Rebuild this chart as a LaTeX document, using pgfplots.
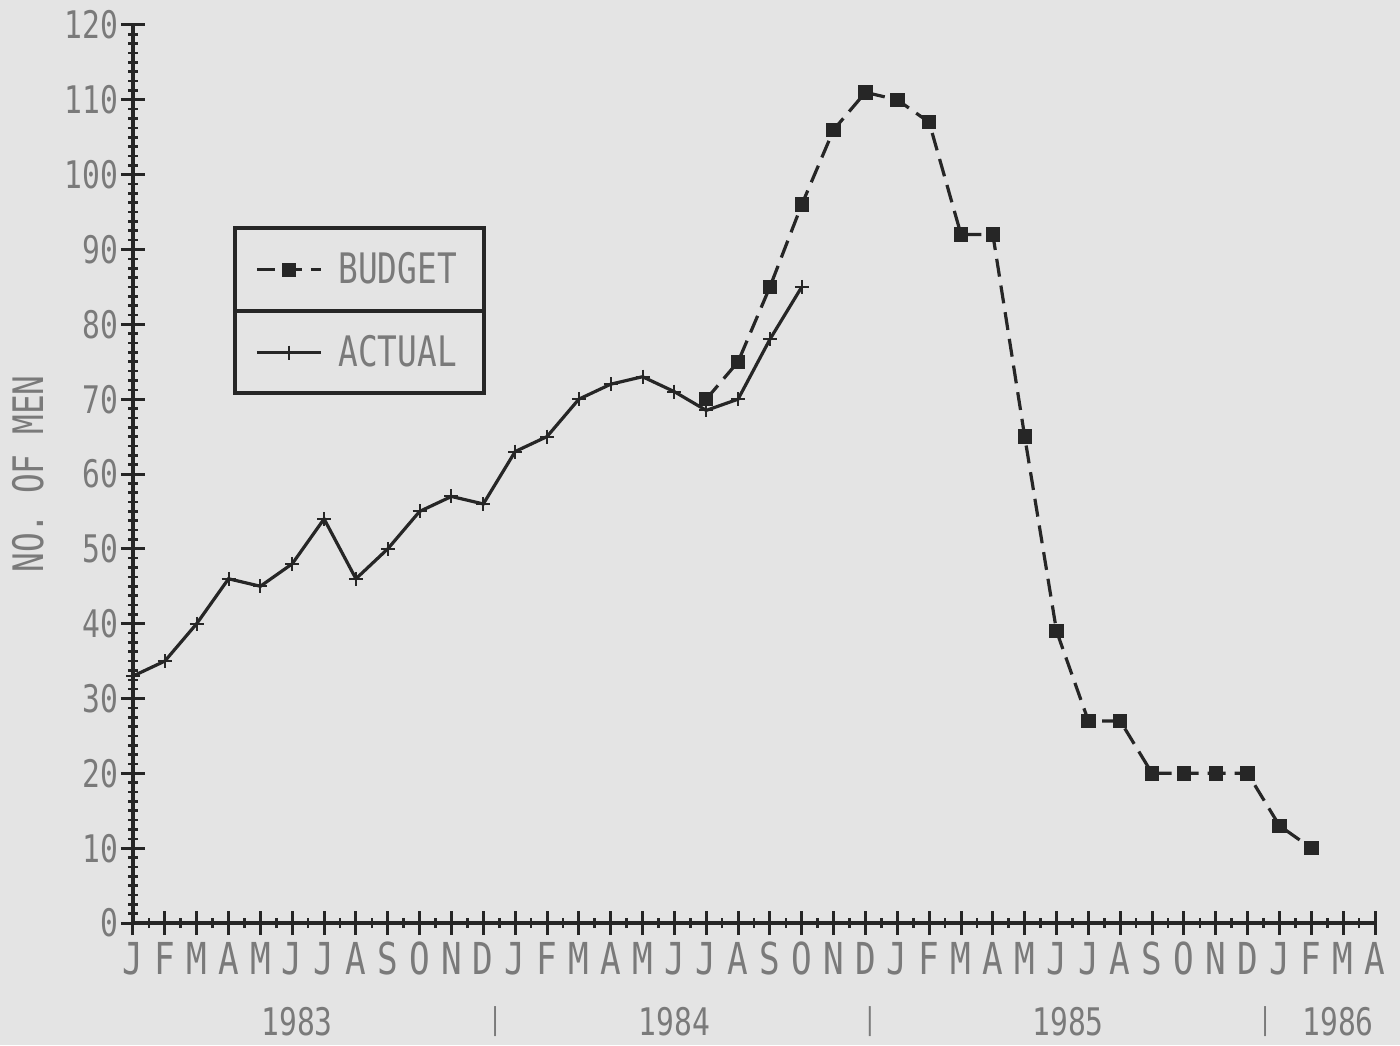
\documentclass[border=0pt]{standalone}
\usepackage{pgfplots}
\pgfplotsset{compat=1.18}
\usepackage{fontspec}
\newfontfamily\plotfont[FakeStretch=0.78]{DejaVu Sans Mono}
\definecolor{bg}{HTML}{E4E4E4}
\definecolor{ink}{HTML}{262626}
\definecolor{txt}{HTML}{7A7A7A}
\begin{document}
\begin{tikzpicture}
\fill[bg] (-66.5pt,-61pt) rectangle (633.5pt,461.5pt);
\useasboundingbox (-66.5pt,-61pt) rectangle (633.5pt,461.5pt);
\begin{axis}[
  at={(0pt,0pt)}, anchor=south west,
  scale only axis, width=621pt, height=449pt,
  xmin=0, xmax=39, ymin=0, ymax=120,
  axis lines*=left,
  axis line style={ink, line width=2pt},
  clip=false,
  tick align=center,
  major tick length=12pt,
  minor tick length=5pt,
  tick style={ink, line width=1.5pt},
  minor tick style={ink, line width=1.3pt},
  ytick={0,10,...,120},
  minor y tick num=7,
  xtick={0,...,39},
  minor x tick num=1,
  xticklabels={J,F,M,A,M,J,J,A,S,O,N,D,J,F,M,A,M,J,J,A,S,O,N,D,J,F,M,A,M,J,J,A,S,O,N,D,J,F,M,A},
  /pgf/number format/assume math mode=true,
  yticklabel style={font=\plotfont\fontsize{19pt}{19pt}\selectfont, text=txt, xshift=2pt},
  xticklabel style={font=\plotfont\fontsize{22pt}{22pt}\selectfont, text=txt},
  ylabel={NO. OF MEN},
  every axis y label/.style={at={(axis cs:-3.3,60)}, rotate=90, anchor=center, font=\plotfont\fontsize{21pt}{21pt}\selectfont, text=txt},
  legend image code/.code={\draw[mark repeat=2,mark phase=2,#1] plot coordinates {(0pt,0pt) (16pt,0pt) (32pt,0pt)};},
  legend style={at={(axis cs:3.2,92.9)}, anchor=north west, draw=none, fill=none,
    inner xsep=10pt, inner ysep=0pt, row sep=0pt,
    font=\plotfont\fontsize{21pt}{21pt}\selectfont, text=txt,
    nodes={inner ysep=0pt, inner xsep=8pt, minimum height=41.5pt}},
  legend cell align=left,
]
\addplot[ink, line width=1.6pt, dash pattern=on 9pt off 4.5pt, mark=square*, mark size=2.8pt, mark options={solid}] coordinates {
(18,70) (19,75) (20,85) (21,96) (22,106) (23,111) (24,110) (25,107) (26,92) (27,92)
(28,65) (29,39) (30,27) (31,27) (32,20) (33,20) (34,20) (35,20) (36,13) (37,10)};
\addlegendentry{BUDGET}
\addplot[ink, line width=1.6pt, mark=+, mark size=3.5pt, mark options={line width=1pt}] coordinates {
(0,33) (1,35) (2,40) (3,46) (4,45) (5,48) (6,54) (7,46) (8,50) (9,55) (10,57) (11,56)
(12,63) (13,65) (14,70) (15,72) (16,73) (17,71) (18,68.5) (19,70) (20,78) (21,85)};
\addlegendentry{ACTUAL}
\draw[ink, line width=2pt] (axis cs:3.2,92.9) rectangle (axis cs:11.02,70.8);
\draw[ink, line width=2pt] (axis cs:3.2,81.8) -- (axis cs:11.02,81.8);
\begin{scope}[every node/.style={font=\plotfont\fontsize{19pt}{19pt}\selectfont, text=txt}]
\node at (axis cs:5.15,-13.2) {1983};
\node[font=\plotfont\fontsize{15pt}{15pt}\selectfont] at (axis cs:11.37,-13.2) {|};
\node at (axis cs:17.0,-13.2) {1984};
\node[font=\plotfont\fontsize{15pt}{15pt}\selectfont] at (axis cs:23.14,-13.2) {|};
\node at (axis cs:29.36,-13.2) {1985};
\node[font=\plotfont\fontsize{15pt}{15pt}\selectfont] at (axis cs:35.55,-13.2) {|};
\node at (axis cs:37.84,-13.2) {1986};
\end{scope}
\end{axis}
\end{tikzpicture}
\end{document}
